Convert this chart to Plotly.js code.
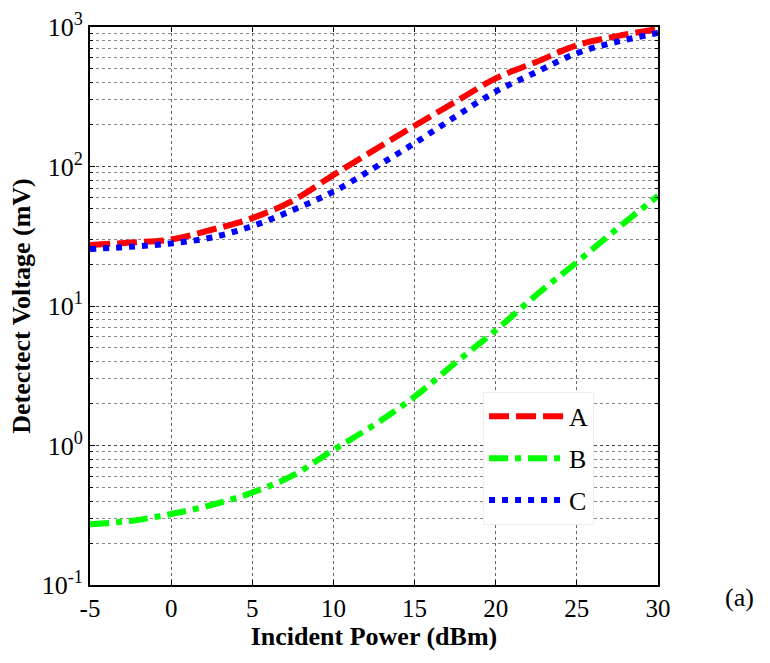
<!DOCTYPE html>
<html>
<head>
<meta charset="utf-8">
<script src="https://cdn.plot.ly/plotly-3.0.1.min.js"></script>
<style>html,body{margin:0;padding:0;background:#fff;}#chart{width:770px;height:663px;}</style>
</head>
<body>
<div id="chart"></div>
<script>
// Data
const power = [-5, -2.5, 0, 2.5, 5, 7.5, 10, 12.5, 15, 17.5, 20, 22.5, 25, 27.5, 30];
const seriesA = [27.4, 28.5, 30.0, 35.2, 42.7, 57, 87, 131, 196, 290, 428, 561, 740, 861, 968];
const seriesB = [0.273, 0.288, 0.323, 0.375, 0.46, 0.61, 0.93, 1.40, 2.24, 3.9, 6.7, 12, 20.6, 36, 61.5];
const seriesC = [25.6, 26.6, 28.1, 31.0, 37.4, 48.7, 66, 97.5, 147, 227, 344, 475, 649, 785, 906];
const names = ["A", "B", "C"];
const yTickVals = [0.1, 1, 10, 100, 1000];
const yTickText = ["10<sup>-1</sup>", "10<sup>0</sup>", "10<sup>1</sup>", "10<sup>2</sup>", "10<sup>3</sup>"];
const xTickVals = [-5, 0, 5, 10, 15, 20, 25, 30];
const xTickText = ["-5", "0", "5", "10", "15", "20", "25", "30"];

const minorVals = [];
[0.1, 1, 10, 100].forEach(d => { for (let k = 2; k <= 9; k++) minorVals.push(+(d * k).toPrecision(3)); });

const serif = "'Liberation Serif', 'Times New Roman', serif";

const traces = [
  {x: power, y: seriesA, name: names[0], legendgroup: "a", mode: "lines",
   line: {color: "#ff0000", width: 6, dash: "20px,7px", shape: "spline"}},
  {x: power, y: seriesB, name: names[1], legendgroup: "b", mode: "lines",
   line: {color: "#00ff00", width: 6, dash: "19px,7px,6px,7px", shape: "spline"}},
  {x: power, y: seriesC, name: names[2], legendgroup: "c", mode: "lines",
   line: {color: "#0000ff", width: 6, dash: "6px,7px", shape: "spline"}}
];

const layout = {
  width: 770, height: 663,
  margin: {l: 90, r: 112, t: 27, b: 78},
  paper_bgcolor: "#fff", plot_bgcolor: "#fff",
  font: {family: serif, color: "#000", size: 25},
  showlegend: true,
  legend: {x: 0.692, y: 0.346, xanchor: "left", yanchor: "top",
           bgcolor: "#fff", bordercolor: "#eeeeee", borderwidth: 1,
           font: {family: serif, size: 26, color: "#000"},
           itemwidth: 75, traceorder: "grouped", tracegroupgap: 5},
  xaxis: {
    range: [-5, 30], tickvals: xTickVals, ticktext: xTickText,
    showline: true, linecolor: "#000", linewidth: 2, mirror: "ticks",
    ticks: "inside", ticklen: 5, tickcolor: "#000",
    showgrid: true, gridcolor: "#666", griddash: "dot", gridwidth: 1,
    zeroline: false,
    tickfont: {family: serif, size: 25},
    title: {text: "<b>Incident Power (dBm)</b>", font: {family: serif, size: 26}, standoff: 3}
  },
  yaxis: {
    type: "log", range: [-1, 3],
    tickvals: yTickVals, ticktext: yTickText,
    showline: true, linecolor: "#000", linewidth: 2, mirror: "ticks",
    ticks: "inside", ticklen: 5, tickcolor: "#000",
    showgrid: true, gridcolor: "#444", griddash: "dot", gridwidth: 1,
    zeroline: false,
    tickfont: {family: serif, size: 26},
    minor: {tickvals: minorVals, ticks: "inside", ticklen: 3, tickcolor: "#000",
            showgrid: true, gridcolor: "#888", griddash: "dot", gridwidth: 1},
    title: {text: "<b>Detectect Voltage (mV)</b>", font: {family: serif, size: 26}, standoff: 4}
  },
  annotations: [
    {text: "(a)", xref: "paper", yref: "paper", x: 1.144, y: -0.023,
     xanchor: "center", yanchor: "middle", showarrow: false,
     font: {family: serif, size: 26, color: "#000"}}
  ]
};

Plotly.newPlot("chart", traces, layout, {displayModeBar: false, staticPlot: true});
</script>
</body>
</html>
